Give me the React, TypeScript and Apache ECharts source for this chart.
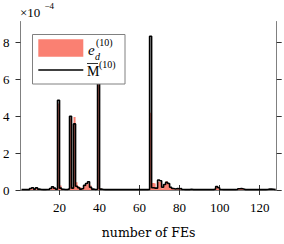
import React, { useEffect, useRef } from 'react';
import * as echarts from 'echarts';

// values in units of 1e-4, FE index 1..128
const mBar = [
  0.02, 0.02, 0.03, 0.02, 0.08, 0.12, 0.05, 0.12, 0.05, 0.03,
  0.02, 0.02, 0.03, 0.03, 0.08, 0.18, 0.1, 0.04, 4.87, 0.1,
  0.04, 0.03, 0.03, 0.06, 4.0, 0.1, 3.59, 0.2, 0.12, 0.05,
  0.08, 0.25, 0.35, 0.45, 0.15, 0.05, 0.03, 0.04, 6.6, 0.05,
  0.03, 0.02, 0.03, 0.02, 0.02, 0.03, 0.02, 0.02, 0.03, 0.02,
  0.02, 0.03, 0.02, 0.02, 0.03, 0.02, 0.02, 0.02, 0.03, 0.02,
  0.02, 0.03, 0.02, 0.03, 8.35, 0.12, 0.1, 0.1, 0.54, 0.5,
  0.15, 0.3, 0.42, 0.35, 0.15, 0.08, 0.05, 0.08, 0.06, 0.08,
  0.03, 0.02, 0.03, 0.02, 0.04, 0.02, 0.02, 0.03, 0.02, 0.02,
  0.02, 0.03, 0.02, 0.02, 0.03, 0.02, 0.05, 0.19, 0.12, 0.03,
  0.02, 0.02, 0.03, 0.02, 0.02, 0.03, 0.02, 0.03, 0.07, 0.08,
  0.05, 0.02, 0.02, 0.03, 0.02, 0.02, 0.02, 0.03, 0.02, 0.02,
  0.03, 0.02, 0.03, 0.05, 0.05, 0.04, 0.02, 0.02,
];

const eD = [
  0.01, 0.01, 0.02, 0.01, 0.05, 0.08, 0.03, 0.08, 0.03, 0.02,
  0.01, 0.01, 0.02, 0.02, 0.05, 0.12, 0.06, 0.03, 4.7, 0.25,
  0.03, 0.02, 0.02, 0.04, 3.9, 0.06, 3.97, 0.42, 0.2, 0.15,
  0.1, 0.2, 0.3, 0.35, 0.25, 0.06, 0.02, 0.03, 5.9, 0.08,
  0.02, 0.01, 0.02, 0.01, 0.01, 0.02, 0.01, 0.01, 0.02, 0.01,
  0.01, 0.02, 0.01, 0.01, 0.02, 0.01, 0.01, 0.01, 0.02, 0.01,
  0.01, 0.02, 0.01, 0.02, 4.2, 0.38, 0.35, 0.1, 0.45, 0.45,
  0.1, 0.3, 0.48, 0.35, 0.12, 0.06, 0.03, 0.06, 0.04, 0.06,
  0.02, 0.01, 0.02, 0.01, 0.03, 0.01, 0.01, 0.02, 0.01, 0.01,
  0.01, 0.02, 0.01, 0.01, 0.02, 0.01, 0.04, 0.17, 0.1, 0.02,
  0.01, 0.01, 0.02, 0.01, 0.01, 0.02, 0.01, 0.02, 0.06, 0.07,
  0.04, 0.01, 0.01, 0.02, 0.01, 0.01, 0.01, 0.02, 0.01, 0.01,
  0.02, 0.01, 0.02, 0.04, 0.04, 0.03, 0.01, 0.01,
];

const xTicks = [20, 40, 60, 80, 100, 120];
const yTicks = [0, 2, 4, 6, 8];
const xLabel = 'number of FEs';

const SALMON = '#FA8072';
const FRAME = '#808080';
const TICK = '#333333';
const SERIF = '"Liberation Serif", serif';

export default function App() {
  const ref = useRef<HTMLDivElement>(null);
  useEffect(() => {
    if (!ref.current) return;
    const chart = echarts.init(ref.current, null, { renderer: 'svg' });
    const eData = eD.map((v, i) => [i + 1, v]);
    const mData = mBar.map((v, i) => [i + 1, v]);
    const tickCommon = { show: true, inside: false, length: 5, lineStyle: { color: TICK, width: 1 } };
    const lineCommon = { show: true, lineStyle: { color: FRAME, width: 1 } };
    const Z = 100;
    chart.setOption({
      animation: false,
      backgroundColor: '#fff',
      grid: { left: 18.3, top: 21.5, right: 7.3, bottom: 45, containLabel: false },
      xAxis: [
        {
          type: 'value', min: 0.5, max: 128.5, position: 'bottom',
          axisLine: lineCommon,
          axisTick: { ...tickCommon, customValues: xTicks },
          axisLabel: { customValues: xTicks, fontFamily: SERIF, fontSize: 13, color: '#000', margin: 11 },
          splitLine: { show: false },
          name: xLabel, nameLocation: 'middle', nameGap: 36,
          nameTextStyle: { fontFamily: '"DejaVu Serif", serif', fontSize: 12.5, color: '#000' },
        },
        {
          type: 'value', min: 0.5, max: 128.5, position: 'top',
          axisLine: lineCommon,
          axisTick: { ...tickCommon, customValues: xTicks },
          axisLabel: { show: false },
          splitLine: { show: false },
        },
      ],
      yAxis: [
        {
          type: 'value', min: 0, max: 9.15, position: 'left',
          axisLine: lineCommon,
          axisTick: { ...tickCommon, customValues: yTicks },
          axisLabel: { customValues: yTicks, fontFamily: SERIF, fontSize: 13, color: '#000', margin: 11 },
          splitLine: { show: false },
        },
        {
          type: 'value', min: 0, max: 9.15, position: 'right',
          axisLine: lineCommon,
          axisTick: { ...tickCommon, customValues: yTicks },
          axisLabel: { show: false },
          splitLine: { show: false },
        },
      ],
      series: [
        {
          name: 'e_d', type: 'line', step: 'end', data: eData, symbol: 'none',
          lineStyle: { width: 0, color: SALMON }, itemStyle: { color: SALMON },
          areaStyle: { color: SALMON, opacity: 1 }, z: 2,
        },
        {
          name: 'M', type: 'line', step: 'end', data: mData, symbol: 'none',
          lineStyle: { width: 1.6, color: '#000' }, itemStyle: { color: '#000' }, z: 3,
        },
      ],
      graphic: [
        { type: 'text', x: 20, y: 12, z: Z, style: { text: '×10', font: `13px ${SERIF}`, fill: '#000', verticalAlign: 'middle' } },
        { type: 'text', x: 44.5, y: 6, z: Z, style: { text: '−4', font: `9px ${SERIF}`, fill: '#000', verticalAlign: 'middle' } },
        { type: 'rect', z: Z, shape: { x: 32.5, y: 34.5, width: 92.5, height: 49.5 }, style: { fill: '#fff', stroke: FRAME, lineWidth: 1 } },
        { type: 'rect', z: Z + 1, shape: { x: 38.3, y: 39.3, width: 45, height: 17.4 }, style: { fill: SALMON } },
        { type: 'line', z: Z + 1, shape: { x1: 38.3, y1: 70, x2: 83.3, y2: 70 }, style: { stroke: '#000', lineWidth: 1.6 } },
        { type: 'text', z: Z + 1, x: 88, y: 50, style: { text: 'e', font: `italic 15px ${SERIF}`, fill: '#000', verticalAlign: 'middle' } },
        { type: 'text', z: Z + 1, x: 95, y: 56, style: { text: 'd', font: `italic 10px ${SERIF}`, fill: '#000', verticalAlign: 'middle' } },
        { type: 'text', z: Z + 1, x: 96, y: 42, style: { text: '(10)', font: `10px ${SERIF}`, fill: '#000', verticalAlign: 'middle' } },
        { type: 'text', z: Z + 1, x: 87, y: 71, style: { text: 'M', font: `14px ${SERIF}`, fill: '#000', verticalAlign: 'middle' } },
        { type: 'line', z: Z + 1, shape: { x1: 87, y1: 63.5, x2: 98, y2: 63.5 }, style: { stroke: '#000', lineWidth: 0.8 } },
        { type: 'text', z: Z + 1, x: 99, y: 64, style: { text: '(10)', font: `10px ${SERIF}`, fill: '#000', verticalAlign: 'middle' } },
      ],
    });
    return () => chart.dispose();
  }, []);
  return <div ref={ref} style={{ position: 'absolute', left: 0, top: 0, width: 284, height: 244 }} />;
}
